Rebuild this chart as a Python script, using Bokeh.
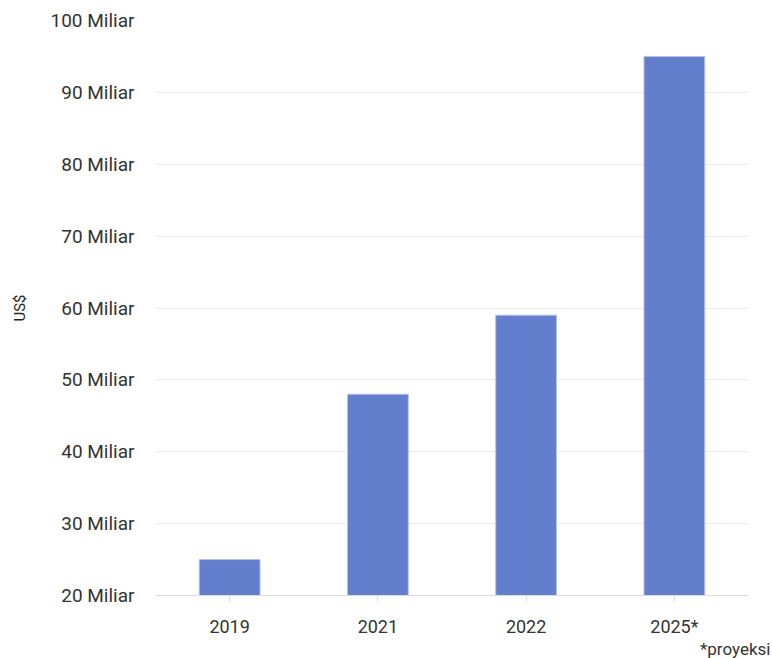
from bokeh.plotting import figure
from bokeh.models import FixedTicker, ColumnDataSource, Title
from bokeh.embed import file_html
from bokeh.resources import INLINE

categories = ["2019", "2021", "2022", "2025*"]
values = [25, 48, 59, 95]
y_ticks = [20, 30, 40, 50, 60, 70, 80, 90, 100]
y_tick_labels = ["20 Miliar", "30 Miliar", "40 Miliar", "50 Miliar", "60 Miliar",
                 "70 Miliar", "80 Miliar", "90 Miliar", "100 Miliar"]
y_axis_title = "US$"
footnote = "*proyeksi"

src = ColumnDataSource(dict(cat=categories, val=values))

p = figure(x_range=categories, y_range=(20, 100), width=772, height=658,
           output_backend="svg", toolbar_location=None,
           min_border_left=155, min_border_right=24, min_border_top=20,
           min_border_bottom=63)
p.outline_line_color = None
p.background_fill_color = "white"
p.border_fill_color = "white"

p.vbar(x="cat", top="val", bottom=20, width=0.41, source=src,
       fill_color="#627ecc", line_color="#b4c3ec", line_width=1)

FONT = "Roboto"
p.yaxis.ticker = FixedTicker(ticks=y_ticks)
p.yaxis.major_label_overrides = {t: l for t, l in zip(y_ticks, y_tick_labels)}
p.yaxis.axis_line_color = None
p.yaxis.major_tick_line_color = None
p.yaxis.minor_tick_line_color = None
p.yaxis.major_tick_out = 0
p.yaxis.major_tick_in = 0
p.yaxis.major_label_standoff = 21
p.yaxis.major_label_text_font = FONT
p.yaxis.major_label_text_font_size = "19px"
p.yaxis.major_label_text_color = "#333333"
p.yaxis.axis_label = y_axis_title
p.yaxis.axis_label_text_font = FONT
p.yaxis.axis_label_text_font_size = "15px"
p.yaxis.axis_label_text_font_style = "normal"
p.yaxis.axis_label_text_color = "#222222"
p.yaxis.axis_label_standoff = 19

p.xaxis.axis_line_color = "#dcdcdc"
p.xaxis.major_tick_line_color = "#dcdcdc"
p.xaxis.major_tick_out = 6
p.xaxis.major_tick_in = 0
p.xaxis.minor_tick_line_color = None
p.xaxis.major_label_standoff = 14
p.xaxis.major_label_text_font = FONT
p.xaxis.major_label_text_font_size = "18px"
p.xaxis.major_label_text_color = "#333333"

p.xgrid.grid_line_color = None
p.ygrid.grid_line_color = "#ebebeb"
p.ygrid.grid_line_width = 1

p.add_layout(Title(text=footnote, align="right", offset=-22,
                   text_font=FONT, text_font_size="17px",
                   text_font_style="normal", text_color="#333333",
                   standoff=-5), "below")

open("out.html", "w").write(file_html(p, INLINE))
